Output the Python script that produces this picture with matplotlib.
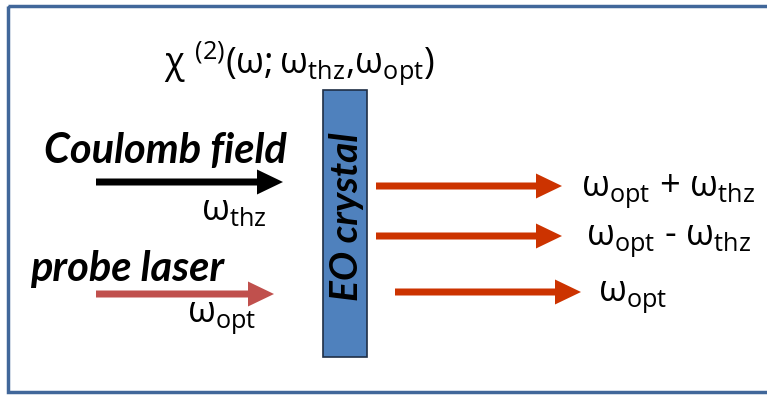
import matplotlib
matplotlib.use("Agg")
import matplotlib.pyplot as plt
from matplotlib.patches import Rectangle, FancyArrow

plt.rcParams['mathtext.fontset'] = 'custom'
plt.rcParams['mathtext.rm'] = 'Open Sans'
plt.rcParams['mathtext.it'] = 'Open Sans:italic'
plt.rcParams['mathtext.bf'] = 'Open Sans:bold'

# Diagram content
title_label = r'$\mathrm{\chi\ ^{(2)}(ω{;}ω_{thz}{,}ω_{opt})}$'
input_labels = ['Coulomb field', 'probe laser']
input_freqs = [r'$\mathrm{ω_{thz}}$', r'$\mathrm{ω_{opt}}$']
input_colors = ['#000000', '#c0504d']
crystal_label = 'EO crystal'
output_labels = [r'$\mathrm{ω_{opt}}$ + $\mathrm{ω_{thz}}$',
                 r'$\mathrm{ω_{opt}}$ - $\mathrm{ω_{thz}}$',
                 r'$\mathrm{ω_{opt}}$']
output_color = '#cc3300'

W, H = 767, 397
fig = plt.figure(figsize=(W/100, H/100), dpi=100)
ax = fig.add_axes([0, 0, 1, 1])
ax.set_xlim(0, W)
ax.set_ylim(H, 0)
ax.axis('off')

# frame
ax.add_patch(Rectangle((8, 6), 780, 386, fill=False, ec='#41679a', lw=2.5))

# crystal
ax.add_patch(Rectangle((323, 90), 44, 267, fc='#4f81bd', ec='#1f2f45', lw=1.2))
ax.text(347, 217, crystal_label, rotation=90, ha='center', va='center',
        fontsize=28, fontweight='bold', fontstyle='italic', family='Lato')

def arrow(x0, x1, y, color, shaft=7, head_w=25, head_l=26):
    ax.add_patch(FancyArrow(x0, y, x1 - x0, 0, width=shaft, head_width=head_w,
                            head_length=head_l, length_includes_head=True,
                            fc=color, ec='none'))

# inputs
arrow(96, 283, 182, input_colors[0])
arrow(96, 274, 294, input_colors[1])
ax.text(165, 151, input_labels[0], ha='center', va='center', fontsize=30,
        fontweight='bold', fontstyle='italic', family='Lato')
ax.text(127, 269, input_labels[1], ha='center', va='center', fontsize=30,
        fontweight='bold', fontstyle='italic', family='Lato')
ax.text(234, 211, input_freqs[0], ha='center', va='center', fontsize=26)
ax.text(222, 318, input_freqs[1], ha='center', va='center', fontsize=26)

# title
ax.text(299, 63, title_label, ha='center', va='center', fontsize=26)

# outputs
out_x = [(376, 562), (376, 562), (395, 581)]
out_y = [186, 236, 292]
out_tx = [668, 669, 633]
for (x0, x1), y, tx, lab in zip(out_x, out_y, out_tx, output_labels):
    arrow(x0, x1, y, output_color)
    ax.text(tx, y + 5, lab, ha='center', va='center', fontsize=26,
            family='Open Sans')

fig.savefig('out.png', dpi=100)
